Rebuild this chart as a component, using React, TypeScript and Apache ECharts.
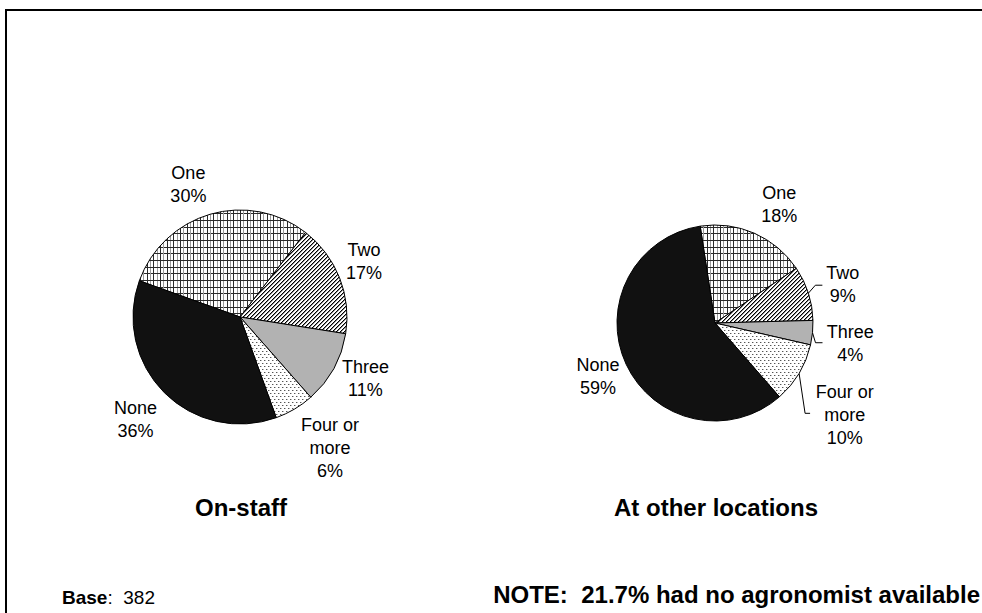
import React, { useEffect, useRef } from 'react';
import * as echarts from 'echarts';

// ---------- data ----------
const categories = ['One', 'Two', 'Three', 'Four or more', 'None'];
const onStaffValues = [30, 17, 11, 6, 36];
const otherLocationValues = [18, 9, 4, 10, 59];
const chartTitles = ['On-staff', 'At other locations'];
const baseLabel = 'Base';
const baseCount = 382;
const noteText = 'NOTE:  21.7% had no agronomist available';

// ---------- layout / style ----------
const FONT = 'Arial, "Liberation Sans", Helvetica, sans-serif';

type PieLayout = {
  values: number[];
  center: [number, number];
  radius: number;
  startAngle: number;
  labelDist: number[];
  nudge: [number, number][];
  leaders: ([number, number][] | null)[];
};

const pieLayouts: PieLayout[] = [
  {
    values: onStaffValues,
    center: [240, 317],
    radius: 107,
    startAngle: 160.2,
    labelDist: [142, 142, 142, 155, 142],
    nudge: [[-12, 4], [-8, -3], [1, -7], [11, -2], [-4, 2]],
    leaders: [null, null, null, null, null],
  },
  {
    values: otherLocationValues,
    center: [715, 323],
    radius: 98,
    startAngle: 98.7,
    labelDist: [130, 130, 130, 150, 130],
    nudge: [[12, 1], [4, 1], [6, 8], [1, 15], [1, -1]],
    leaders: [null, [[7, -8], [7, 0]], [[3, 10], [7, 0]], [[6, 40], [5, 0]], null],
  },
];

function tile(w: number, h: number, draw: (px: (x: number, y: number, c: string) => void) => void) {
  const c = document.createElement('canvas');
  c.width = w;
  c.height = h;
  const ctx = c.getContext('2d')!;
  ctx.fillStyle = '#ffffff';
  ctx.fillRect(0, 0, w, h);
  const px = (x: number, y: number, col: string) => {
    ctx.fillStyle = col;
    ctx.fillRect(x, y, 1, 1);
  };
  draw(px);
  return { image: c.toDataURL(), imageWidth: w, imageHeight: h, repeat: 'repeat' } as any;
}

function makePatterns() {
  const grid = tile(20, 20, (px) => {
    const dark = [0, 7, 13];
    const grey = [3, 10, 17];
    for (let i = 0; i < 20; i++) {
      dark.forEach((d) => {
        px(d, i, '#2a2a2a');
        px(i, d, '#2a2a2a');
      });
      grey.forEach((g) => px(g, i, '#9a9a9a'));
    }
  });
  const diag = tile(4, 4, (px) => {
    for (let y = 0; y < 4; y++)
      for (let x = 0; x < 4; x++) {
        if ((x + y) % 4 === 3) px(x, y, '#000000');
        else if ((x + y) % 4 === 0) px(x, y, '#8a8a8a');
      }
  });
  const dots = tile(4, 6, (px) => {
    px(0, 0, '#555555');
    px(1, 0, '#bbbbbb');
    px(2, 3, '#555555');
    px(3, 3, '#bbbbbb');
  });
  return [grid, diag, '#b2b2b2', dots, '#111111'];
}

function midAngles(values: number[], start: number) {
  const total = values.reduce((a, b) => a + b, 0);
  let a = start;
  return values.map((v) => {
    const span = (v / total) * 360;
    const mid = a - span / 2;
    a -= span;
    return mid;
  });
}

export default function App() {
  const ref = useRef<HTMLDivElement>(null);

  useEffect(() => {
    if (!ref.current) return;
    const chart = echarts.init(ref.current, null, { renderer: 'svg' });
    const fills = makePatterns();

    const series = pieLayouts.map((p) => {
      const mids = midAngles(p.values, p.startAngle);
      return {
        type: 'pie',
        center: p.center,
        radius: p.radius,
        startAngle: p.startAngle,
        clockwise: true,
        avoidLabelOverlap: false,
        silent: true,
        itemStyle: { borderColor: '#000', borderWidth: 1 },
        label: {
          show: true,
          position: 'outside',
          fontFamily: FONT,
          fontSize: 18,
          lineHeight: 23,
          color: '#000',
          formatter: (prm: any) => `${String(prm.name).replace('or ', 'or\n')}\n${prm.value}%`,
        },
        labelLine: { show: true, lineStyle: { color: '#000', width: 1 } },
        data: p.values.map((v, i) => ({
          value: v,
          name: categories[i],
          itemStyle: { color: fills[i] },
          labelLine: { show: !!p.leaders[i] },
        })),
        labelLayout: (prm: any) => {
          const i = prm.dataIndex;
          const rad = (mids[i] * Math.PI) / 180;
          const cx = p.center[0];
          const cy = p.center[1];
          const x = cx + p.labelDist[i] * Math.cos(rad) + p.nudge[i][0];
          const y = cy - p.labelDist[i] * Math.sin(rad) + p.nudge[i][1];
          const out: any = { x, y, align: 'center', verticalAlign: 'middle' };
          const ld = p.leaders[i];
          if (ld) {
            const p0 = [cx + p.radius * Math.cos(rad), cy - p.radius * Math.sin(rad)];
            const p1 = [p0[0] + ld[0][0], p0[1] + ld[0][1]];
            const p2 = [p1[0] + ld[1][0], p1[1] + ld[1][1]];
            out.labelLinePoints = [p0, p1, p2];
          }
          return out;
        },
        emphasis: { disabled: true },
      };
    });

    chart.setOption({
      animation: false,
      backgroundColor: '#ffffff',
      series,
      graphic: [
        {
          type: 'rect',
          silent: true,
          z: -1,
          shape: { x: 6, y: 10, width: 1100, height: 800 },
          style: { fill: 'none', stroke: '#000', lineWidth: 2 },
        },
        {
          type: 'text',
          x: 241,
          y: 507,
          style: {
            text: chartTitles[0],
            font: `bold 24px ${FONT}`,
            fill: '#000',
            align: 'center',
            verticalAlign: 'middle',
          },
        },
        {
          type: 'text',
          x: 716,
          y: 507,
          style: {
            text: chartTitles[1],
            font: `bold 24px ${FONT}`,
            fill: '#000',
            align: 'center',
            verticalAlign: 'middle',
          },
        },
        {
          type: 'text',
          x: 62,
          y: 597,
          style: {
            text: `{b|${baseLabel}}{n|:  ${baseCount}}`,
            align: 'left',
            verticalAlign: 'middle',
            rich: {
              b: { fontFamily: FONT, fontSize: 19, fontWeight: 'bold', fill: '#000' },
              n: { fontFamily: FONT, fontSize: 19, fill: '#000' },
            },
          },
        },
        {
          type: 'text',
          x: 980,
          y: 594,
          style: {
            text: noteText,
            font: `bold 24px ${FONT}`,
            fill: '#000',
            align: 'right',
            verticalAlign: 'middle',
          },
        },
      ],
    });
    return () => chart.dispose();
  }, []);

  return (
    <div
      ref={ref}
      style={{ position: 'absolute', left: 0, top: 0, width: 982, height: 613 }}
    />
  );
}
